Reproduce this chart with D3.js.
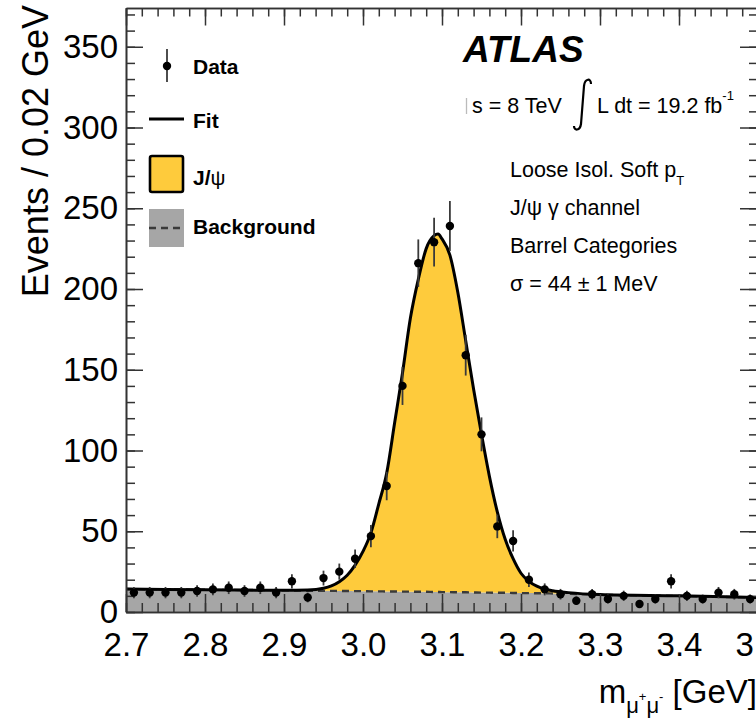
<!DOCTYPE html>
<html>
<head>
<meta charset="utf-8">
<script src="https://cdn.jsdelivr.net/npm/d3@7/dist/d3.min.js"></script>
<style>
  body { margin: 0; background: #fff; }
  svg { display: block; font-family: "Liberation Sans", Arial, Helvetica, sans-serif; }
</style>
</head>
<body>
<script>
// ---------------- data ----------------
const dataMass = [2.71,2.73,2.75,2.77,2.79,2.81,2.83,2.85,2.87,2.89,
                  2.91,2.93,2.95,2.97,2.99,3.01,3.03,3.05,3.07,3.09,
                  3.11,3.13,3.15,3.17,3.19,3.21,3.23,3.25,3.27,3.29,
                  3.31,3.33,3.35,3.37,3.39,3.41,3.43,3.45,3.47,3.49];
const dataCounts = [12,12,12,12,13,14,15,13,15,12,
                    19,9,21,25,33,47,78,140,216,229,
                    239,159,110,53,44,20,14,11,7,11,
                    8,10,5,8,19,10,8,12,11,8];
const dataErrors = [3.5,3.5,3.5,3.5,3.6,3.7,3.9,3.6,3.9,3.5,
                    4.4,3.0,4.6,5.0,5.7,6.9,8.8,11.8,14.7,15.1,
                    15.5,12.6,10.5,7.3,6.6,4.5,3.7,3.3,2.6,3.3,
                    2.8,3.2,2.2,2.8,4.4,3.2,2.8,3.5,3.3,2.8];

const fitMass  = [2.70,2.80,2.90,2.93,2.95,2.96,2.97,2.98,2.99,3.00,
                  3.01,3.02,3.03,3.04,3.05,3.06,3.07,3.08,3.09,3.095,
                  3.10,3.11,3.12,3.13,3.14,3.15,3.16,3.17,3.18,3.19,
                  3.20,3.21,3.22,3.23,3.24,3.26,3.30,3.40,3.50];
const fitTotal = [14.2,13.8,13.4,13.6,14.7,16.2,18.8,22.8,29,37.5,
                  49,67,86,117,148,182,206,225,233,234,
                  231,221,198,168,138,110,84,62,45,33,
                  24,19,16,14.2,13.2,12.0,10.8,10.0,9.0];
const fitBkg   = [14.2,13.8,13.4,13.2,13.1,13.1,13.0,13.0,12.9,12.9,
                  12.8,12.8,12.7,12.7,12.6,12.6,12.5,12.5,12.4,12.4,
                  12.3,12.3,12.2,12.2,12.1,12.0,12.0,11.9,11.9,11.8,
                  11.7,11.7,11.6,11.6,11.5,11.3,10.7,9.9,8.9];

const xTickValues = [2.7,2.8,2.9,3.0,3.1,3.2,3.3,3.4,3.5];
const xTickLabels = ["2.7","2.8","2.9","3.0","3.1","3.2","3.3","3.4","3.5"];
const yTickValues = [0,50,100,150,200,250,300,350];
const yTickLabels = ["0","50","100","150","200","250","300","350"];

const legendLabels = ["Data","Fit","J/","Background"];
const infoLines = ["Loose Isol. Soft p","J/ψ γ channel","Barrel Categories","σ = 44 ± 1 MeV"];

// ---------------- layout ----------------
const W = 756, H = 718;
const padL = 126, padR = 758, padT = 8, padB = 612;
const YELLOW = "#fecb3c", GRAY = "#a6a6a6", AX = "#333";

const x = d3.scaleLinear().domain([2.7, 3.5]).range([padL, padR]);
const y = d3.scaleLinear().domain([0, 374]).range([padB, padT]);

const svg = d3.select("body").append("svg").attr("width", W).attr("height", H);

const fitRows = fitMass.map((m, i) => ({m, t: fitTotal[i], b: fitBkg[i]}));
const curve = d3.curveMonotoneX;

// background fill
svg.append("path").datum(fitRows)
  .attr("d", d3.area().x(d => x(d.m)).y0(y(0)).y1(d => y(d.b)).curve(curve))
  .attr("fill", GRAY);
// signal fill
svg.append("path").datum(fitRows)
  .attr("d", d3.area().x(d => x(d.m)).y0(d => y(d.b)).y1(d => y(Math.max(d.t, d.b))).curve(curve))
  .attr("fill", YELLOW);
// background dashed line
svg.append("path").datum(fitRows)
  .attr("d", d3.line().x(d => x(d.m)).y(d => y(d.b)).curve(curve))
  .attr("fill", "none").attr("stroke", "#3a3a3a").attr("stroke-width", 2.4)
  .attr("stroke-dasharray", "7,5");
// fit line
svg.append("path").datum(fitRows)
  .attr("d", d3.line().x(d => x(d.m)).y(d => y(d.t)).curve(curve))
  .attr("fill", "none").attr("stroke", "#000").attr("stroke-width", 3);

// ---------------- axes ----------------
const xMinor = d3.range(0, 41).map(i => 2.7 + i * 0.02);
const yMinor = d3.range(0, 38).map(i => i * 10);

function styleAxis(g) {
  g.selectAll(".domain").attr("stroke", AX).attr("stroke-width", 1.6);
  g.selectAll(".tick line").attr("stroke", AX).attr("stroke-width", 1.5);
  g.selectAll(".tick text").attr("fill", "#000").attr("font-size", 33)
    .attr("font-family", "Liberation Sans, Arial, sans-serif");
}

svg.append("g").attr("transform", `translate(0,${padB})`)
  .call(d3.axisBottom(x).tickValues(xMinor).tickFormat("").tickSizeInner(-9).tickSizeOuter(0)).call(styleAxis);
svg.append("g").attr("transform", `translate(0,${padB})`)
  .call(d3.axisBottom(x).tickValues(xTickValues).tickFormat((d, i) => xTickLabels[i])
        .tickSizeInner(-18).tickSizeOuter(0).tickPadding(21)).call(styleAxis);

svg.append("g").attr("transform", `translate(0,${padT})`)
  .call(d3.axisTop(x).tickValues(xMinor).tickFormat("").tickSizeInner(-8.5).tickSizeOuter(0)).call(styleAxis);
svg.append("g").attr("transform", `translate(0,${padT})`)
  .call(d3.axisTop(x).tickValues(xTickValues).tickFormat("").tickSizeInner(-17.5).tickSizeOuter(0)).call(styleAxis);

svg.append("g").attr("transform", `translate(${padL},0)`)
  .call(d3.axisLeft(y).tickValues(yMinor).tickFormat("").tickSizeInner(-9).tickSizeOuter(0)).call(styleAxis);
svg.append("g").attr("transform", `translate(${padL},0)`)
  .call(d3.axisLeft(y).tickValues(yTickValues).tickFormat((d, i) => yTickLabels[i])
        .tickSizeInner(-17).tickSizeOuter(0).tickPadding(8)).call(styleAxis);

svg.append("g").attr("transform", `translate(${padR},0)`)
  .call(d3.axisRight(y).tickValues(yMinor).tickFormat("").tickSizeInner(-9).tickSizeOuter(0)).call(styleAxis);
svg.append("g").attr("transform", `translate(${padR},0)`)
  .call(d3.axisRight(y).tickValues(yTickValues).tickFormat("")
        .tickSizeInner(-18).tickSizeOuter(0)).call(styleAxis);

// ---------------- data points ----------------
const pts = dataMass.map((m, i) => ({m, c: dataCounts[i], e: dataErrors[i]}));
const pg = svg.append("g");
pg.selectAll("line").data(pts).join("line")
  .attr("x1", d => x(d.m)).attr("x2", d => x(d.m))
  .attr("y1", d => y(d.c - d.e)).attr("y2", d => y(d.c + d.e))
  .attr("stroke", "#3a3a3a").attr("stroke-width", 1.8);
pg.selectAll("circle").data(pts).join("circle")
  .attr("cx", d => x(d.m)).attr("cy", d => y(d.c)).attr("r", 4.2).attr("fill", "#000");

// ---------------- axis titles ----------------
svg.append("text")
  .attr("transform", "translate(48,5) rotate(-90)")
  .attr("text-anchor", "end").attr("font-size", 36).attr("fill", "#000")
  .text("Events / 0.02 GeV");

const xt = svg.append("text").attr("x", 757).attr("y", 703)
  .attr("text-anchor", "end").attr("font-size", 33).attr("fill", "#000");
xt.append("tspan").text("m");
xt.append("tspan").attr("font-size", 22).attr("dy", 10).text("μ");
xt.append("tspan").attr("font-size", 13).attr("dy", -12).text("+");
xt.append("tspan").attr("font-size", 22).attr("dy", 12).text("μ");
xt.append("tspan").attr("font-size", 13).attr("dy", -12).text("-");
xt.append("tspan").attr("dy", 2).text(" [GeV]");

// ---------------- legend ----------------
const lg = svg.append("g");
lg.append("line").attr("x1", 167).attr("x2", 167).attr("y1", 49).attr("y2", 82)
  .attr("stroke", "#3a3a3a").attr("stroke-width", 1.8);
lg.append("circle").attr("cx", 167).attr("cy", 66).attr("r", 4.2).attr("fill", "#000");
lg.append("line").attr("x1", 149).attr("x2", 184).attr("y1", 119).attr("y2", 119)
  .attr("stroke", "#000").attr("stroke-width", 3);
lg.append("rect").attr("x", 150).attr("y", 156).attr("width", 33).attr("height", 36).attr("rx", 2)
  .attr("fill", YELLOW).attr("stroke", "#000").attr("stroke-width", 2.6);
lg.append("rect").attr("x", 149).attr("y", 209).attr("width", 35).attr("height", 38).attr("fill", GRAY);
lg.append("line").attr("x1", 149).attr("x2", 184).attr("y1", 228).attr("y2", 228)
  .attr("stroke", "#3a3a3a").attr("stroke-width", 2.4).attr("stroke-dasharray", "7,5");

const legY = [74, 128, 185, 234];
legendLabels.forEach((t, i) => {
  const tx = lg.append("text").attr("x", 193).attr("y", legY[i])
    .attr("font-size", 21).attr("font-weight", "bold").attr("fill", "#000").text(t);
  if (i === 2) tx.append("tspan").attr("font-weight", "normal").text("ψ");
});

// ---------------- ATLAS labels ----------------
svg.append("text").attr("x", 463).attr("y", 62)
  .attr("font-size", 37).attr("font-weight", "bold").attr("font-style", "italic").attr("fill", "#000")
  .text("ATLAS");

svg.append("line").attr("x1", 466.5).attr("x2", 466.5).attr("y1", 98).attr("y2", 114)
  .attr("stroke", "#bbb").attr("stroke-width", 1.3);
svg.append("text").attr("x", 472).attr("y", 113).attr("font-size", 21.5).attr("fill", "#000")
  .text("s = 8 TeV");
svg.append("path")
  .attr("d", "M591,84 C591,78 585,78 584,86 L581,124 C580,131 574,131 574,126")
  .attr("fill", "none").attr("stroke", "#000").attr("stroke-width", 2.2);
const lum = svg.append("text").attr("x", 597).attr("y", 113).attr("font-size", 21.5).attr("fill", "#000");
lum.append("tspan").text("L dt = 19.2 fb");
lum.append("tspan").attr("font-size", 13).attr("dy", -13).text("-1");

const infoY = [177, 215, 253, 291];
infoLines.forEach((t, i) => {
  const tx = svg.append("text").attr("x", 510).attr("y", infoY[i]).attr("font-size", 21.5)
    .attr("fill", "#000").text(t);
  if (i === 0) tx.append("tspan").attr("font-size", 13).attr("dy", 8).text("T");
});
</script>
</body>
</html>
